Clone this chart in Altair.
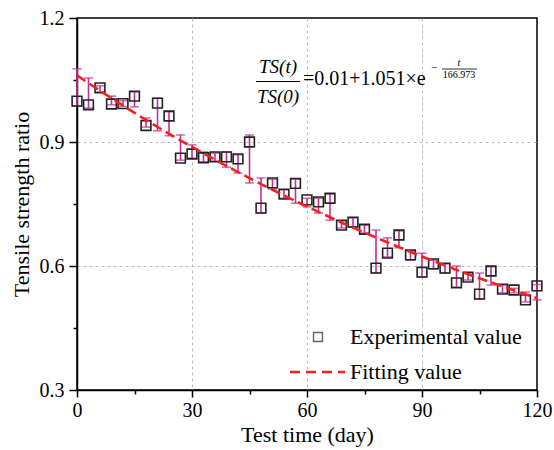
import altair as alt
import pandas as pd

# ---- data ----
days = list(range(0, 121, 3))
ratio = [0.999, 0.990, 1.031, 0.992, 0.993, 1.011, 0.940, 0.994, 0.963, 0.861,
         0.871, 0.862, 0.864, 0.864, 0.859, 0.900, 0.740, 0.801, 0.774, 0.800,
         0.760, 0.755, 0.764, 0.699, 0.706, 0.689, 0.595, 0.631, 0.675, 0.627,
         0.585, 0.605, 0.595, 0.559, 0.573, 0.532, 0.588, 0.544, 0.542, 0.518,
         0.552]
err_hi = [1.077, 1.055, 1.036, 1.011, 1.000, 1.021, 0.958, 1.006, 0.973, 0.917,
          0.893, 0.876, 0.873, 0.876, 0.869, 0.917, 0.813, 0.810, 0.784, 0.810,
          0.764, 0.764, 0.774, 0.709, 0.716, 0.699, 0.687, 0.668, 0.685, 0.636,
          0.631, 0.614, 0.605, 0.600, 0.583, 0.583, 0.598, 0.554, 0.546, 0.537,
          0.555]
err_lo = [0.987, 0.982, 1.021, 0.990, 0.986, 0.985, 0.936, 0.927, 0.915, 0.856,
          0.861, 0.852, 0.854, 0.839, 0.825, 0.801, 0.728, 0.786, 0.764, 0.752,
          0.743, 0.728, 0.711, 0.692, 0.694, 0.680, 0.583, 0.622, 0.644, 0.614,
          0.573, 0.593, 0.583, 0.549, 0.566, 0.520, 0.554, 0.535, 0.535, 0.513,
          0.518]
fit_days = [0, 10, 20, 30, 40, 50, 60, 70, 80, 90, 100, 110, 120]
fit_vals = [1.061, 1.000, 0.942, 0.888, 0.837, 0.789, 0.744, 0.701, 0.661,
            0.623, 0.587, 0.554, 0.522]
x_ticks = list(range(0, 121, 15))
y_ticks = [0.3, 0.45, 0.6, 0.75, 0.9, 1.05, 1.2]

FONT = "Liberation Serif"
MAGENTA = "#C0309C"
RED = "#F5201E"

df = pd.DataFrame({"day": days, "ratio": ratio, "hi": err_hi, "lo": err_lo})
fit = pd.DataFrame({"day": fit_days, "fit": fit_vals})
one = pd.DataFrame({"k": [0]})

xscale = alt.Scale(domain=[0, 120], nice=False, zero=False)
yscale = alt.Scale(domain=[0.3, 1.2], nice=False, zero=False)

xaxis = alt.Axis(
    values=x_ticks, title="Test time (day)",
    labelExpr="datum.value % 30 == 0 ? datum.label : ''",
    tickSize={"condition": {"test": "datum.value % 30 == 0", "value": 7}, "value": 4},
    grid=True,
    gridOpacity={"condition": {"test": "datum.value % 30 == 0 && datum.value > 0 && datum.value < 120",
                               "value": 1}, "value": 0},
    gridDash=[3, 3], gridColor="#bdbdbd", gridWidth=1,
    labelPadding=3, titlePadding=4,
)
yaxis = alt.Axis(
    values=y_ticks, title="Tensile strength ratio", format=".1f",
    labelExpr="round(datum.value * 100) % 30 == 0 ? datum.label : ''",
    tickSize={"condition": {"test": "round(datum.value * 100) % 30 == 0", "value": 8}, "value": 4},
    grid=True,
    gridOpacity={"condition": {"test": "round(datum.value * 100) == 60 || round(datum.value * 100) == 90",
                               "value": 1}, "value": 0},
    gridDash=[3, 3], gridColor="#bdbdbd", gridWidth=1,
    labelPadding=5, titlePadding=6,
)

base = alt.Chart(df)
x_enc = alt.X("day:Q", scale=xscale, axis=xaxis)

bars = base.mark_rule(color=MAGENTA, strokeWidth=1.6).encode(
    x=x_enc, y=alt.Y("lo:Q", scale=yscale, axis=yaxis), y2="hi:Q")
cap_hi = base.mark_tick(color=MAGENTA, orient="horizontal", size=9, thickness=1.6).encode(
    x="day:Q", y="hi:Q")
cap_lo = base.mark_tick(color=MAGENTA, orient="horizontal", size=9, thickness=1.6).encode(
    x="day:Q", y="lo:Q")
pts = base.mark_point(shape="square", size=95, filled=False, stroke="#222222",
                      strokeWidth=1.6, opacity=1).encode(x="day:Q", y="ratio:Q")
line = alt.Chart(fit).mark_line(color=RED, strokeWidth=2.6, strokeDash=[10, 5],
                                interpolate="monotone").encode(
    x=alt.X("day:Q", scale=xscale), y=alt.Y("fit:Q", scale=yscale))

def txt(s, x, y, size, align="center", style="normal"):
    return alt.Chart(one).mark_text(text=s, font=FONT, fontSize=size, align=align,
                                    baseline="middle", fontStyle=style, color="black").encode(
        x=alt.value(x), y=alt.value(y))

def hline(x1, x2, y, color="black", width=1.2, dash=None):
    kw = dict(color=color, strokeWidth=width)
    if dash:
        kw["strokeDash"] = dash
    return alt.Chart(one).mark_rule(**kw).encode(
        x=alt.value(x1), x2=alt.value(x2), y=alt.value(y))

eq = [
    txt("TS(t)", 201, 49, 19, style="italic"),
    hline(179, 223, 63.5),
    txt("TS(0)", 201, 79, 19, style="italic"),
    txt("=0.01+1.051×e", 226, 61, 20, align="left"),
    txt("−", 357, 50, 11),
    txt("t", 382, 45, 10, style="italic"),
    hline(365, 400, 51, width=0.8),
    txt("166.973", 382, 57, 10),
]

legend = [
    alt.Chart(one).mark_point(shape="square", size=80, filled=False, stroke="#222222",
                              strokeWidth=1.4).encode(x=alt.value(241), y=alt.value(319)),
    txt("Experimental value", 273, 319, 22, align="left"),
    hline(213, 268, 354, color=RED, width=2.6, dash=[10, 6]),
    txt("Fitting value", 273, 354, 22, align="left"),
]

chart = alt.layer(bars, cap_hi, cap_lo, pts, line, *eq, *legend).properties(
    width=460, height=372,
    autosize=alt.AutoSizeParams(type="none"),
    padding={"left": 77, "top": 18, "right": 17, "bottom": 60},
).configure_view(stroke="black", strokeWidth=1.5).configure_axis(
    labelFont=FONT, titleFont=FONT, labelFontSize=20, titleFontSize=22,
    titleFontWeight="normal", labelColor="black", titleColor="black",
    domainColor="black", domainWidth=1.5, tickColor="black", tickWidth=1.5,
    labelFlush=False, labelOverlap=False,
)

chart.save("out.html", embed_options={"renderer": "svg", "actions": False})
